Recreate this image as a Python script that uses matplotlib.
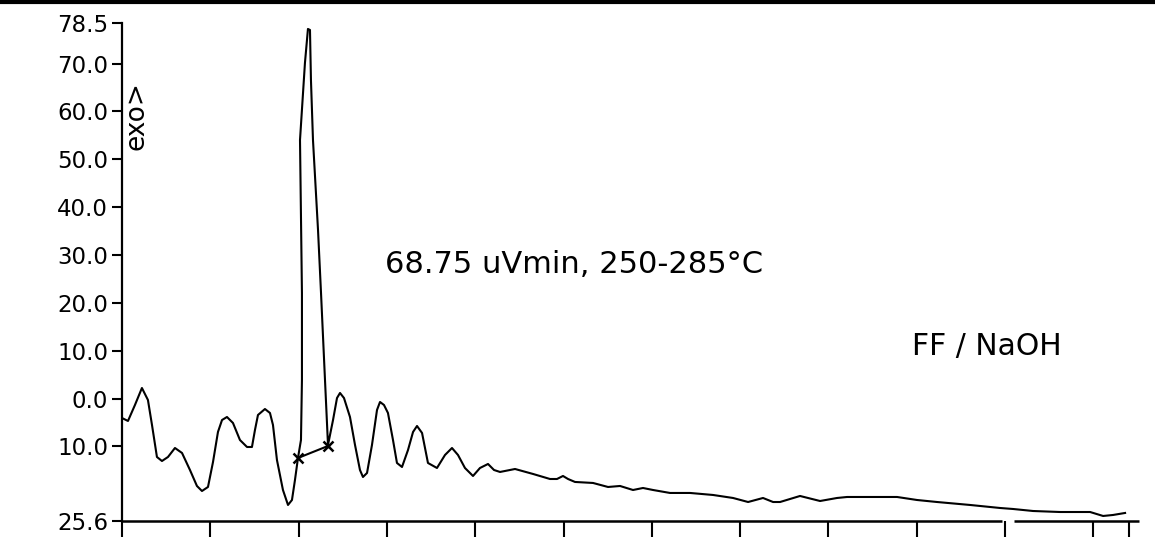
# DSC trace for FF/NaOH, re-drawn from the scanned chart

import matplotlib
matplotlib.use("Agg")
import matplotlib.pyplot as plt
from matplotlib.lines import Line2D

# trace, in tick units along x and signal units along y
trace_x = [0.0, 0.068, 0.147, 0.226, 0.294, 0.340, 0.396, 0.453, 0.521, 0.600,
           0.680, 0.770, 0.849, 0.906, 0.974, 1.031, 1.087, 1.133, 1.189, 1.257,
           1.336, 1.416, 1.472, 1.506, 1.540, 1.619, 1.676, 1.710, 1.755, 1.823,
           1.880, 1.925, 1.959, 1.993, 2.027, 2.038, 2.038, 2.016, 2.072, 2.106,
           2.129, 2.140, 2.163, 2.220, 2.254, 2.299, 2.333, 2.390, 2.435, 2.469,
           2.514, 2.582, 2.639, 2.695, 2.729, 2.775, 2.831, 2.888, 2.922, 2.967,
           3.012, 3.069, 3.114, 3.171, 3.239, 3.296, 3.341, 3.398, 3.465, 3.567,
           3.658, 3.737, 3.805, 3.884, 3.975, 4.054, 4.145, 4.213, 4.281, 4.451,
           4.655, 4.847, 4.926, 4.994, 5.051, 5.130, 5.334, 5.504, 5.640, 5.787,
           5.900, 6.014, 6.206, 6.433, 6.693, 6.920, 7.090, 7.259, 7.373, 7.452,
           7.678, 7.905, 8.097, 8.211, 8.777, 9.003, 9.230, 9.604, 9.943, 10.091,
           10.317, 10.623, 10.963, 11.110, 11.223, 11.359]
trace_y = [-4.07, -4.69, -1.35, 2.20, -0.30, -5.53, -12.22, -13.06, -12.22, -10.34,
           -11.38, -14.94, -18.28, -19.33, -18.49, -13.26, -6.99, -4.49, -3.86, -5.11,
           -8.67, -10.13, -10.13, -6.58, -3.44, -2.19, -3.02, -5.53, -12.85, -19.12,
           -22.25, -21.21, -17.03, -12.43, -8.67, 3.88, 22.06, 54.04, 70.14, 77.25,
           77.04, 66.59, 54.04, 35.23, 22.06, 3.88, -9.71, -4.49, 0.11, 1.16,
           0.11, -3.86, -9.71, -14.94, -16.40, -15.56, -9.71, -2.39, -0.72, -1.35,
           -3.02, -8.67, -13.47, -14.31, -10.76, -6.99, -5.74, -7.20, -13.47, -14.52,
           -11.80, -10.34, -11.80, -14.52, -16.19, -14.52, -13.68, -14.94, -15.35, -14.73,
           -15.77, -16.82, -16.82, -16.19, -16.82, -17.44, -17.65, -18.49, -18.28, -19.12,
           -18.70, -19.12, -19.74, -19.74, -20.16, -20.79, -21.63, -20.79, -21.63, -21.63,
           -20.37, -21.42, -20.79, -20.58, -20.58, -21.21, -21.63, -22.25, -22.88, -23.09,
           -23.51, -23.72, -23.72, -24.55, -24.34, -23.92]

# integration baseline under the peak
base_x = [1.993, 2.333]
base_y = [-12.43, -9.92]

yticks = [78.5, 70.0, 60.0, 50.0, 40.0, 30.0, 20.0, 10.0, 0.0, -10.0, -25.6]
ytick_labels = ["78.5", "70.0", "60.0", "50.0", "40.0", "30.0", "20.0", "10.0",
                "0.0", "10.0", "25.6"]
xticks = [0, 1, 2, 3, 4, 5, 6, 7, 8, 9, 10, 11, 11.4]

peak_label = "68.75 uVmin, 250-285°C"
sample_label = "FF / NaOH"

fig = plt.figure(figsize=(11.55, 5.37), dpi=100)
ax = fig.add_axes([0.1056, 0.0298, 0.8831, 0.9274])

ax.plot(trace_x, trace_y, color="black", lw=1.5, solid_joinstyle="round")
ax.plot(base_x, base_y, color="black", lw=1.5, marker="x", ms=7, mew=1.8)

ax.set_xlim(0, 11.55)
ax.set_ylim(-25.6, 78.5)

ax.set_yticks(yticks)
ax.set_yticklabels(ytick_labels, fontsize=16.5)
ax.set_xticks(xticks)
ax.set_xticklabels([])
ax.tick_params(axis="y", length=7, width=1.5, pad=3)
ax.tick_params(axis="x", length=14, width=1.5)

for side in ["top", "right", "bottom"]:
    ax.spines[side].set_visible(False)
ax.spines["left"].set_linewidth(1.6)

# x axis line, with the small break near the right
ax.hlines(-25.6, 0, 9.97, color="black", lw=1.8, clip_on=False)
ax.hlines(-25.6, 10.1, 11.52, color="black", lw=1.8, clip_on=False)

ax.text(0.17, 59.1, "exo>", rotation=90, fontsize=19, ha="center", va="center")
ax.text(2.98, 26.2, peak_label, fontsize=22, ha="left", va="baseline")
ax.text(8.95, 9.0, sample_label, fontsize=21.5, ha="left", va="baseline")

# scanner edge along the top
fig.add_artist(Line2D([0, 1], [0.997, 0.997], color="black", lw=3,
                      transform=fig.transFigure))

fig.savefig("out.png", dpi=100)
